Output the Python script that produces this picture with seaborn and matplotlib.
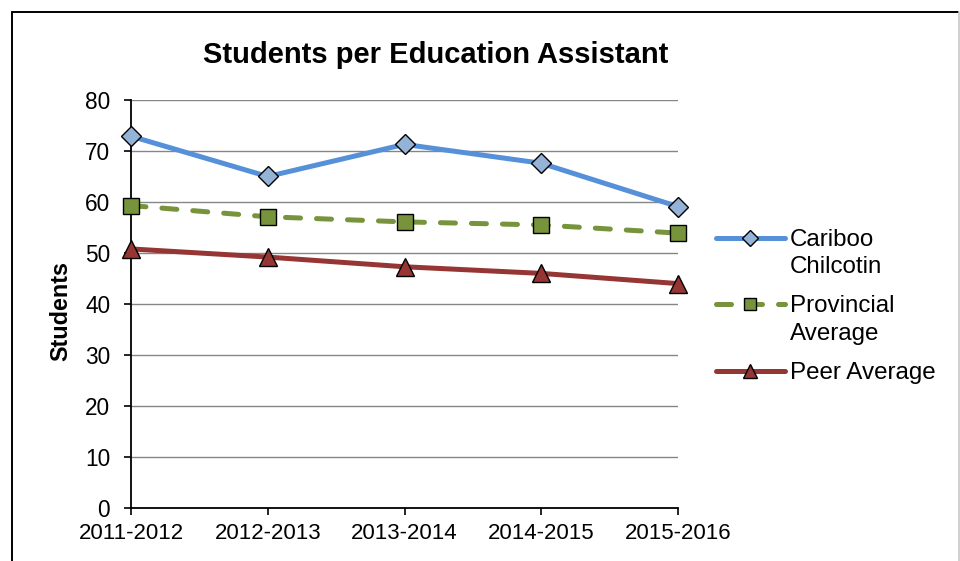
import numpy as np
import matplotlib
matplotlib.use("Agg")
import matplotlib.pyplot as plt
from matplotlib.lines import Line2D
from matplotlib.legend_handler import HandlerLine2D
import seaborn as sns

years = ["2011-2012", "2012-2013", "2013-2014", "2014-2015", "2015-2016"]
cariboo = [72.9, 65.0, 71.3, 67.6, 59.1]
provincial = [59.3, 57.1, 56.1, 55.5, 53.9]
peer = [50.8, 49.2, 47.3, 46.0, 44.0]
series_labels = ["Cariboo\nChilcotin", "Provincial\nAverage", "Peer Average"]
y_ticks = [0, 10, 20, 30, 40, 50, 60, 70, 80]

sns.set_style("white")
plt.rcParams["font.family"] = ["Liberation Sans", "DejaVu Sans"]
for key in ["text.color", "axes.labelcolor", "xtick.color", "ytick.color"]:
    plt.rcParams[key] = "black"

W, H = 960, 561
fig = plt.figure(figsize=(W / 100, H / 100), dpi=100)
ax = fig.add_axes([131 / W, 53 / H, 547 / W, 408 / H])

# outer chart border: black top and left edges, faint right edge
fig.add_artist(Line2D([11.5 / W, 11.5 / W], [-0.05, 1 - 12 / H], transform=fig.transFigure,
                      color="black", lw=1.4))
fig.add_artist(Line2D([11.5 / W, 958 / W], [1 - 12 / H, 1 - 12 / H], transform=fig.transFigure,
                      color="black", lw=1.4))
fig.add_artist(Line2D([959 / W, 959 / W], [-0.05, 1 - 12 / H], transform=fig.transFigure,
                      color="#c8c8c8", lw=1.2))

lw = 3.6
sns.lineplot(x=years, y=cariboo, ax=ax, color="#5590D9", lw=lw, marker="D",
             markersize=10.5, markerfacecolor="#95B3D7", markeredgecolor="black",
             markeredgewidth=1.0, label=series_labels[0], clip_on=False, zorder=4)
sns.lineplot(x=years, y=provincial, ax=ax, color="#77933C", lw=lw, marker="s",
             markersize=11.5, markerfacecolor="#77933C", markeredgecolor="black",
             markeredgewidth=1.0, label=series_labels[1], clip_on=False, zorder=4,
             linestyle=(0, (3, 3.2)), dash_capstyle="round")
sns.lineplot(x=years, y=peer, ax=ax, color="#963634", lw=lw, marker="^",
             markersize=12.5, markerfacecolor="#963634", markeredgecolor="black",
             markeredgewidth=1.0, label=series_labels[2], clip_on=False, zorder=4)

ax.set_xlim(0, len(years) - 1)
ax.set_ylim(0, 80)
ax.set_yticks(y_ticks)
ax.yaxis.grid(True, color="#868686", lw=1.0, zorder=0)
ax.xaxis.grid(False)
ax.set_axisbelow(True)
for s in ["top", "right"]:
    ax.spines[s].set_visible(False)
for s in ["left", "bottom"]:
    ax.spines[s].set_color("black")
    ax.spines[s].set_linewidth(1.3)
ax.tick_params(axis="y", direction="out", length=5, width=1.2, color="black",
               pad=10, labelsize=16.3, left=True)
ax.tick_params(axis="x", direction="out", length=5, width=1.2, color="black",
               pad=5.5, labelsize=16, bottom=True)
ax.set_xlabel("")
ax.set_ylabel("")

fig.text(436 / W, 1 - 55 / H, "Students per Education Assistant", ha="center",
         va="center", fontsize=21, fontweight="bold")
fig.text(61 / W, 1 - 311 / H, "Students", ha="center", va="center", rotation=90,
         fontsize=16.8, fontweight="bold")


class RaisedLine(HandlerLine2D):
    def __init__(self, shift=0.0, **kw):
        super().__init__(**kw)
        self.shift = shift

    def create_artists(self, legend, orig_handle, xdescent, ydescent, width,
                       height, fontsize, trans):
        arts = super().create_artists(legend, orig_handle, xdescent, ydescent,
                                      width, height, fontsize, trans)
        for a in arts:
            a.set_ydata(np.asarray(a.get_ydata(), dtype=float) + self.shift)
        return arts


handles = ax.get_lines()[:3]
if ax.legend_:
    ax.legend_.remove()
leg = fig.legend(handles, series_labels, loc="upper left",
                 bbox_to_anchor=(716 / W, 1 - 229 / H), frameon=False,
                 fontsize=17.4, handlelength=2.85, handletextpad=0.22,
                 labelspacing=0.72, borderpad=0, borderaxespad=0, numpoints=1,
                 markerscale=0.75,
                 handler_map={handles[0]: RaisedLine(shift=11.3, numpoints=1),
                              handles[1]: RaisedLine(shift=11.3, numpoints=1),
                              handles[2]: RaisedLine(shift=0.0, numpoints=1)})
for t in leg.get_texts():
    t.set_linespacing(1.3)

fig.savefig("out.png", dpi=100)
